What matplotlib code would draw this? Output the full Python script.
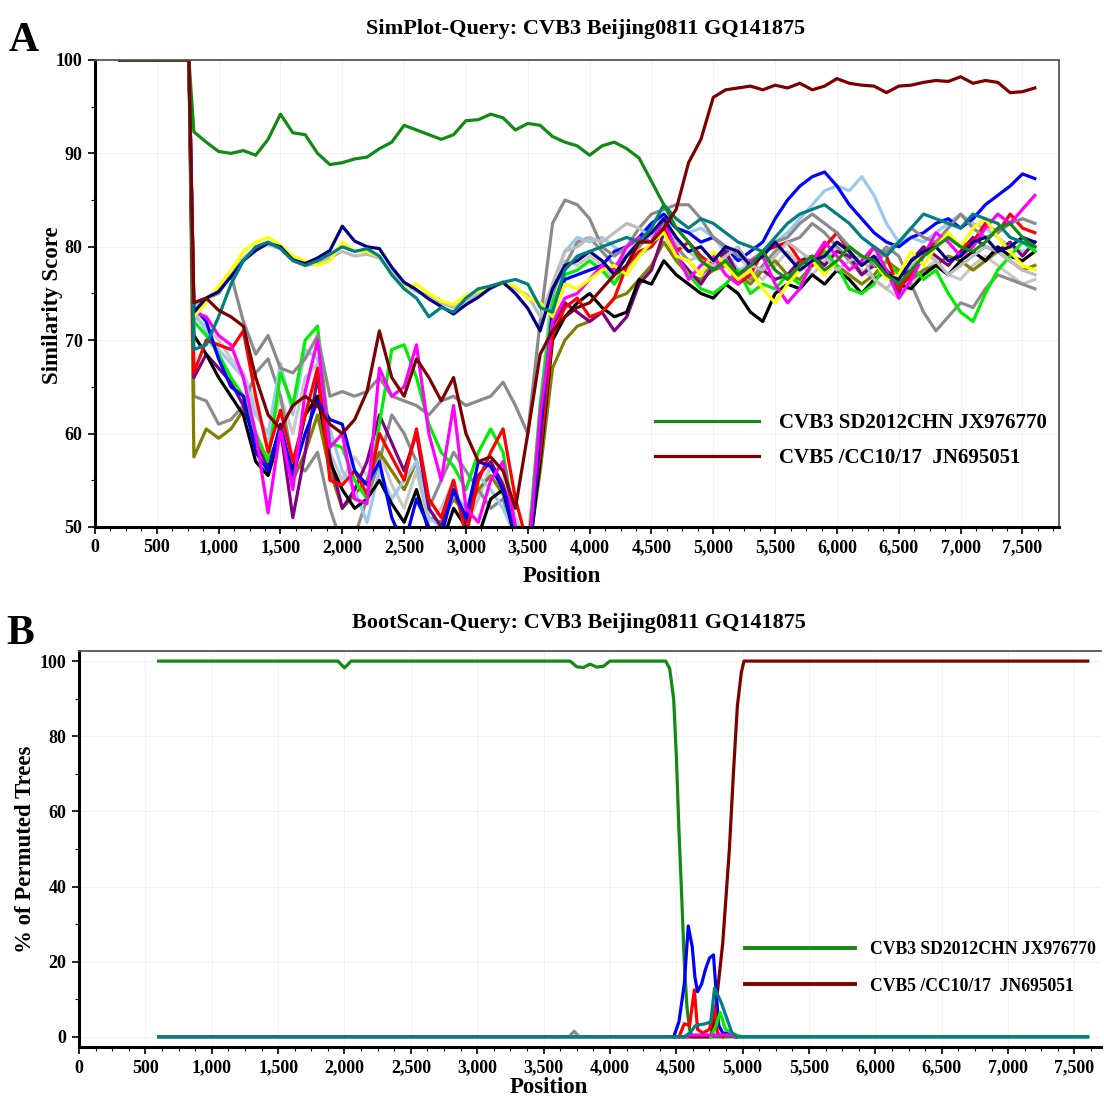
import matplotlib
matplotlib.use('Agg')
import matplotlib.pyplot as plt
from matplotlib.ticker import MultipleLocator, FuncFormatter

plt.rcParams['font.family'] = ['Liberation Serif', 'DejaVu Serif']
plt.rcParams['font.weight'] = 'bold'

# ---------------- Panel A: SimPlot (similarity score) ----------------
# positions: the flat 100 start, then one value every 100 nt from 800 to 7600
a_pos = [200, 760] + list(range(800, 7700, 100))
a_lead = [100, 100]

sim_cvb3 = [92.3, 91.2, 90.2, 90.0, 90.3, 89.8, 91.5, 94.2, 92.2, 92.0,
            90.0, 88.8, 89.0, 89.4, 89.6, 90.5, 91.2, 93.0, 92.5, 92.0,
            91.5, 92.0, 93.5, 93.6, 94.2, 93.8, 92.5, 93.2, 93.0, 91.8,
            91.2, 90.8, 89.8, 90.8, 91.2, 90.5, 89.5, 87.0, 84.5, 82.0,
            80.5, 78.5, 77.5, 78.5, 77.0, 78.0, 79.5, 77.5, 76.5, 78.0,
            79.0, 77.5, 78.5, 80.0, 79.0, 78.5, 77.0, 76.0, 77.5, 79.0,
            80.0, 81.0, 80.0, 79.5, 80.5, 82.0, 82.5, 81.0, 80.0]
sim_cvb5 = [74.0, 74.5, 73.2, 72.5, 71.5, 66.0, 62.0, 60.5, 63.0, 64.0,
            63.0, 61.0, 60.0, 61.5, 64.5, 71.0, 66.0, 64.0, 68.0, 66.0,
            63.5, 66.0, 60.0, 57.0, 57.5, 56.0, 52.0, 60.0, 68.5, 71.0,
            72.5, 73.5, 74.0, 75.5, 77.0, 78.0, 80.5, 80.5, 82.0, 84.0,
            89.0, 91.5, 96.0, 96.8, 97.0, 97.2, 96.8, 97.3, 97.0, 97.5,
            96.8, 97.2, 98.0, 97.5, 97.3, 97.2, 96.5, 97.2, 97.3, 97.6,
            97.8, 97.7, 98.2, 97.5, 97.8, 97.6, 96.5, 96.6, 97.0]

sim_navy = [73.0, 74.5, 75.2, 76.8, 78.5, 79.6, 80.4, 80.0, 78.6, 78.2,
            78.8, 79.6, 82.2, 80.6, 80.0, 79.8, 77.8, 76.2, 75.4, 74.4,
            73.6, 72.8, 73.8, 74.6, 75.6, 76.2, 75.0, 73.4, 71.0, 75.5,
            78.0, 78.5, 79.5, 78.5, 77.0, 79.0, 80.5, 81.5, 83.0, 81.0,
            79.5, 80.0, 78.5, 80.0, 79.5, 78.0, 79.0, 80.5, 79.0, 77.5,
            78.5, 79.0, 80.5, 79.5, 78.0, 79.0, 77.0, 76.5, 78.5, 79.5,
            80.0, 78.5, 79.0, 80.5, 81.0, 79.5, 80.0, 81.0, 80.5]
sim_yellow = [72.5, 74.0, 75.8, 77.5, 79.5, 80.5, 81.0, 80.2, 79.0, 78.5,
              78.0, 78.5, 80.5, 79.5, 79.5, 79.0, 77.0, 75.5, 76.0, 75.0,
              74.2, 73.8, 74.8, 75.2, 75.8, 76.0, 75.8, 74.5, 74.0, 72.5,
              76.0, 75.5, 76.5, 77.5, 78.0, 77.0, 79.0, 80.5, 81.5, 79.0,
              78.5, 77.0, 79.5, 78.0, 76.5, 77.5, 75.5, 74.0, 76.0, 77.5,
              78.5, 77.0, 78.5, 80.0, 79.0, 78.5, 76.5, 77.0, 79.5, 78.0,
              80.0, 81.5, 80.0, 82.0, 83.0, 81.0, 79.5, 78.0, 77.5]
sim_teal = [69.0, 69.5, 72.5, 76.0, 78.5, 80.0, 80.5, 79.8, 78.5, 78.0,
            78.5, 79.2, 80.0, 79.5, 79.8, 79.0, 77.0, 75.5, 74.5, 72.5,
            73.5, 73.0, 74.5, 75.5, 75.8, 76.2, 76.5, 76.0, 73.5, 73.0,
            77.5, 79.0, 79.5, 80.0, 80.5, 81.0, 80.5, 82.0, 84.5, 83.0,
            82.0, 83.0, 82.5, 81.5, 80.5, 80.0, 79.5, 81.0, 82.5, 83.5,
            84.0, 84.5, 83.5, 82.5, 81.0, 80.0, 79.0, 80.5, 82.0, 83.5,
            83.0, 82.5, 82.0, 83.5, 83.0, 82.5, 81.0, 80.5, 80.0]
sim_silver = [73.5, 74.5, 75.5, 77.0, 78.8, 79.8, 80.2, 79.8, 78.8, 78.0,
              78.2, 78.8, 79.5, 79.0, 79.2, 78.8, 77.2, 76.0, 75.2, 74.8,
              74.0, 73.5, 74.2, 75.0, 75.5, 76.2, 75.5, 74.8, 72.5, 76.0,
              79.5, 80.0, 81.0, 80.5, 81.5, 82.5, 82.0, 81.0, 83.0, 80.5,
              79.5, 78.5, 78.0, 79.0, 80.0, 78.0, 77.5, 79.0, 80.5, 79.5,
              78.5, 79.0, 77.5, 78.5, 79.0, 76.5, 75.5, 77.0, 78.0, 79.5,
              78.5, 77.0, 78.0, 79.0, 80.0, 79.5, 78.5, 77.5, 77.0]
sim_magenta = [73.0, 72.5, 70.5, 69.5, 66.0, 60.0, 51.5, 60.5, 54.0, 64.5,
               70.0, 58.5, 60.0, 53.0, 52.5, 67.0, 64.0, 65.0, 69.5, 60.0,
               55.0, 63.0, 52.0, 50.5, 55.0, 57.0, 50.0, 46.0, 62.0, 72.0,
               74.5, 75.0, 76.5, 78.0, 77.5, 80.0, 81.0, 80.5, 83.0, 79.5,
               76.5, 78.0, 79.0, 77.0, 76.0, 78.5, 79.0, 76.0, 74.0, 75.5,
               78.5, 80.5, 79.0, 77.5, 78.5, 80.0, 77.5, 74.5, 76.5, 79.0,
               81.5, 80.5, 79.0, 80.0, 82.0, 83.5, 82.5, 84.0, 85.5]
sim_red = [66.5, 70.0, 69.5, 69.0, 71.0, 64.0, 58.0, 62.5, 57.0, 62.0,
           67.0, 55.0, 54.5, 56.0, 53.5, 60.0, 57.5, 55.0, 60.5, 53.0,
           51.0, 55.0, 49.0, 55.0, 58.0, 60.5, 53.0, 48.0, 58.0, 70.5,
           73.5, 74.5, 72.5, 73.0, 74.5, 78.0, 79.5, 80.0, 82.0, 79.5,
           80.5, 79.0, 78.0, 78.5, 76.0, 77.0, 79.5, 80.0, 80.5, 78.5,
           78.0, 80.0, 81.5, 79.5, 78.0, 80.0, 79.0, 75.5, 77.0, 79.5,
           80.5, 81.0, 80.0, 80.5, 82.5, 81.5, 83.5, 82.0, 81.5]
sim_blue = [73.5, 72.0, 68.0, 65.0, 64.0, 58.0, 56.0, 61.0, 55.5, 60.0,
            63.5, 61.5, 61.0, 56.0, 54.5, 57.0, 51.0, 48.0, 53.0, 50.0,
            49.0, 54.0, 51.0, 57.0, 56.5, 54.0, 49.0, 45.0, 60.0, 73.0,
            76.5, 77.0, 77.5, 78.0, 79.5, 80.0, 81.0, 82.5, 83.5, 82.0,
            81.5, 80.5, 81.0, 80.0, 78.5, 79.5, 80.5, 83.0, 85.0, 86.5,
            87.5, 88.0, 86.5, 84.5, 83.0, 81.5, 80.5, 80.0, 81.0, 81.5,
            82.5, 83.0, 82.0, 83.0, 84.5, 85.5, 86.5, 87.8, 87.3]
sim_lime = [72.0, 70.5, 68.5, 66.0, 64.0, 60.0, 57.0, 66.5, 63.0, 70.0,
            71.5, 59.0, 58.5, 55.0, 53.0, 61.0, 69.0, 69.5, 66.0, 61.0,
            58.0, 56.5, 54.0, 58.0, 60.5, 58.0, 50.0, 47.0, 63.0, 74.0,
            77.0, 77.5, 78.5, 77.5, 76.0, 78.0, 80.5, 81.5, 82.5, 79.0,
            77.0, 75.5, 75.0, 76.0, 77.5, 75.0, 76.0, 75.5, 77.0, 76.0,
            78.0, 79.5, 78.0, 75.5, 75.0, 76.0, 78.5, 77.0, 78.0, 76.5,
            77.5, 75.0, 73.0, 72.0, 75.0, 77.5, 79.0, 80.5, 79.5]
sim_black = [70.5, 68.5, 66.0, 64.0, 62.0, 57.0, 55.5, 60.0, 56.0, 62.0,
             64.0, 57.0, 54.0, 52.0, 53.0, 55.0, 52.5, 50.5, 54.0, 49.5,
             48.0, 52.0, 50.0, 49.0, 53.0, 54.0, 48.5, 46.0, 57.0, 70.0,
             72.5, 74.0, 75.0, 73.5, 72.5, 73.0, 76.5, 76.0, 78.5, 77.0,
             76.0, 75.0, 74.5, 76.0, 75.0, 73.0, 72.0, 75.0, 76.0, 75.5,
             77.0, 76.0, 77.5, 76.5, 75.0, 76.5, 77.5, 76.0, 75.5, 77.0,
             78.0, 77.0, 78.5, 79.5, 78.5, 80.0, 79.0, 78.5, 79.5]
sim_purple = [66.0, 68.5, 67.0, 65.5, 63.0, 59.0, 56.5, 60.5, 51.0, 58.0,
              66.0, 57.5, 52.0, 54.0, 57.0, 62.0, 59.0, 56.0, 60.0, 52.0,
              50.0, 54.0, 50.5, 55.5, 57.0, 54.5, 50.0, 47.0, 58.0, 71.5,
              74.0, 73.0, 72.0, 73.0, 71.0, 72.5, 76.0, 77.5, 81.5, 79.0,
              77.5, 76.0, 78.0, 79.5, 77.0, 78.0, 77.5, 76.5, 77.0, 78.5,
              79.0, 78.0, 79.5, 79.0, 77.0, 78.0, 77.5, 75.0, 78.5, 80.0,
              79.0, 78.0, 79.5, 81.0, 80.0, 79.5, 80.5, 79.0, 80.5]
sim_gray = [74.0, 74.5, 75.0, 77.0, 72.0, 68.5, 70.5, 67.0, 66.5, 68.0,
            70.5, 64.0, 64.5, 64.0, 64.5, 66.0, 64.0, 63.5, 63.0, 62.0,
            63.5, 64.0, 63.0, 63.5, 64.0, 65.5, 63.0, 60.0, 72.0, 82.5,
            85.0, 84.5, 83.0, 80.0, 79.0, 80.0, 82.0, 83.5, 84.0, 84.5,
            84.5, 83.0, 81.0, 80.0, 79.0, 78.5, 79.5, 80.5, 81.0, 82.5,
            83.5, 82.5, 81.5, 80.0, 79.0, 78.0, 79.5, 80.5, 82.0, 81.0,
            80.5, 82.0, 83.5, 82.0, 81.0, 81.5, 82.5, 83.0, 82.5]
sim_gray2 = [64.0, 63.5, 61.0, 61.5, 63.0, 66.5, 68.0, 64.0, 57.0, 56.0,
             58.0, 52.0, 48.0, 49.0, 53.0, 57.0, 62.0, 60.0, 57.0, 52.0,
             55.0, 58.0, 56.0, 54.0, 52.0, 53.0, 49.0, 46.0, 60.0, 75.0,
             78.0, 80.5, 81.0, 79.5, 78.0, 79.0, 80.0, 81.5, 82.0, 80.0,
             78.5, 77.0, 78.0, 79.0, 77.5, 76.5, 78.0, 79.5, 80.5, 81.0,
             82.5, 81.5, 80.0, 78.5, 77.0, 78.5, 80.0, 79.0, 76.0, 73.0,
             71.0, 72.5, 74.0, 73.5, 75.5, 77.0, 76.5, 76.0, 75.5]
sim_lightblue = [73.0, 71.0, 69.0, 67.5, 66.0, 62.0, 60.0, 67.5, 62.0, 69.0,
                 68.0, 60.5, 56.0, 54.0, 50.5, 56.0, 53.0, 55.0, 57.0, 51.0,
                 50.0, 53.5, 52.0, 55.5, 54.0, 52.0, 49.0, 47.0, 63.0, 76.0,
                 79.5, 81.0, 80.5, 81.0, 80.0, 79.0, 81.0, 82.5, 83.0, 82.0,
                 81.5, 82.0, 81.0, 79.5, 77.5, 78.0, 79.5, 80.5, 81.5, 83.0,
                 84.5, 86.0, 86.5, 86.0, 87.5, 85.5, 82.5, 80.5, 81.0, 80.5,
                 81.5, 82.5, 83.5, 82.5, 82.0, 81.0, 80.0, 79.5, 80.0]
sim_olive = [57.5, 60.5, 59.5, 60.5, 62.5, 60.0, 57.0, 60.0, 55.0, 58.0,
             62.0, 56.0, 52.0, 53.5, 55.0, 58.0, 56.0, 54.0, 57.0, 51.0,
             50.5, 53.0, 51.5, 54.0, 55.5, 53.5, 49.5, 46.5, 56.0, 67.0,
             70.0, 71.5, 72.0, 73.0, 74.5, 75.0, 76.5, 78.0, 80.5, 78.5,
             77.0, 76.5, 77.5, 78.0, 77.0, 76.0, 77.5, 78.5, 77.0, 76.5,
             78.0, 79.0, 78.0, 77.0, 76.0, 77.0, 78.5, 77.5, 76.5, 77.5,
             78.0, 79.0, 78.5, 77.5, 78.5, 79.5, 78.5, 77.5, 78.0]
sim_lightgray = [72.5, 71.5, 70.0, 68.0, 66.5, 63.0, 59.0, 64.0, 60.0, 66.0,
                 67.5, 58.0, 55.0, 57.5, 55.5, 58.0, 54.5, 52.0, 56.0, 50.5,
                 52.0, 55.0, 50.0, 53.0, 56.5, 55.0, 51.0, 48.0, 62.0, 75.0,
                 78.5, 78.0, 79.0, 78.0, 76.5, 77.5, 79.0, 80.0, 81.5, 80.0,
                 78.5, 79.0, 77.5, 78.0, 79.0, 77.5, 76.5, 78.0, 79.5, 78.0,
                 77.0, 78.5, 80.0, 79.0, 77.5, 76.5, 75.5, 74.5, 76.0, 77.5,
                 78.5, 77.0, 76.5, 78.0, 79.0, 78.0, 77.0, 76.0, 76.5]

# background reference sequences (no legend entry)
a_background = [
    (sim_lightgray, '#c8c8c8'), (sim_gray2, '#8c8c8c'), (sim_olive, '#808000'),
    (sim_lightblue, '#9cc8ec'), (sim_purple, '#800080'), (sim_black, '#000000'),
    (sim_lime, '#00ee00'), (sim_red, '#ff0000'), (sim_blue, '#0000ff'),
    (sim_gray, '#8a8a8a'), (sim_silver, '#bdbdbd'), (sim_magenta, '#ff00ff'),
    (sim_yellow, '#ffff00'), (sim_navy, '#000080'), (sim_teal, '#008080'),
]

# ---------------- Panel B: BootScan ----------------
b_cvb3_pos = [600, 1950, 2000, 2050, 3700, 3750, 3800, 3850, 3900, 3950, 4000,
              4420, 4450, 4480, 4500, 4520, 4540, 4560, 4580, 4600, 4620, 7600]
b_cvb3_val = [100, 100, 98.2, 100, 100, 98.5, 98.3, 99.2, 98.4, 98.6, 100,
              100, 98, 90, 75, 55, 38, 20, 8, 2, 0, 0]
b_cvb5_pos = [600, 4760, 4790, 4810, 4850, 4880, 4900, 4930, 4960, 4990, 5010, 7600]
b_cvb5_val = [0, 0, 5, 12, 25, 40, 50, 70, 88, 97, 100, 100]
b_blue_pos = [4480, 4520, 4560, 4590, 4620, 4640, 4660, 4690, 4720, 4750, 4780, 4800,
              4820, 4850, 4900, 4950]
b_blue_val = [0, 4, 14, 29.5, 24, 16, 12, 14, 18, 21, 21.8, 12, 3, 1, 1, 0]
b_red_pos = [4520, 4560, 4600, 4636, 4660, 4700, 4750, 4788, 4810, 4850]
b_red_val = [0, 3.5, 3, 12.5, 2, 1, 2, 8, 1, 0]
b_lime_pos = [4760, 4800, 4830, 4870, 4950, 5000]
b_lime_val = [0, 3, 6.5, 2, 0.5, 0]
b_magenta_pos = [4580, 4600, 4920, 4940]
b_magenta_val = [0, 0.5, 0.5, 0]
b_gray_pos = [3690, 3730, 3770]
b_gray_val = [0, 1.5, 0]
b_teal_pos = [600, 4560, 4600, 4645, 4720, 4760, 4788, 4840, 4920, 4960, 7600]
b_teal_val = [0, 0, 1, 3, 3.5, 4, 13, 9, 1, 0, 0]

GREEN = '#138a13'
MAROON = '#7d0000'

fig = plt.figure(figsize=(11.04, 11.02), dpi=100)
axA = fig.add_axes([0.0860, 0.5218, 0.8732, 0.4238])
axB = fig.add_axes([0.0716, 0.0499, 0.9257, 0.3594])

thous = FuncFormatter(lambda v, p: f'{int(v):,}')
tick_font = {'family': 'Liberation Serif', 'weight': 'bold', 'size': 13}


def style_axes(ax, ymajor, yminor):
    ax.xaxis.set_major_locator(MultipleLocator(500))
    ax.xaxis.set_minor_locator(MultipleLocator(125))
    ax.yaxis.set_major_locator(MultipleLocator(ymajor))
    ax.yaxis.set_minor_locator(MultipleLocator(yminor))
    ax.xaxis.set_major_formatter(thous)
    ax.tick_params(which='major', length=5, width=1.2, direction='out', pad=4)
    ax.tick_params(which='minor', length=3, width=0.8, direction='out')
    for lab in ax.get_xticklabels() + ax.get_yticklabels():
        lab.set_fontproperties(tick_font)
    ax.grid(True, which='major', color='#f2f2f2', lw=0.7)
    ax.set_axisbelow(True)
    ax.spines['left'].set_linewidth(2.2)
    ax.spines['bottom'].set_linewidth(2.2)
    ax.spines['top'].set_linewidth(1.3)
    ax.spines['right'].set_linewidth(1.3)
    ax.spines['top'].set_color('#555555')
    ax.spines['right'].set_color('#555555')


# Panel A
for vals, col in a_background:
    axA.plot(a_pos, a_lead + vals, color=col, lw=2.3)
lA1, = axA.plot(a_pos, a_lead + sim_cvb3, color=GREEN, lw=2.3,
                label='CVB3 SD2012CHN JX976770')
lA2, = axA.plot(a_pos, a_lead + sim_cvb5, color=MAROON, lw=2.3,
                label='CVB5 /CC10/17  JN695051')
axA.set_xlim(0, 7795)
axA.set_ylim(50, 100)
style_axes(axA, 10, 5)
axA.set_xlabel('Position', fontsize=16.5, fontweight='bold', labelpad=7, x=0.484)
axA.set_ylabel('Similarity Score', fontsize=16.5, fontweight='bold', labelpad=-5, y=0.475)
axA.legend(handles=[lA1, lA2], loc='upper left', bbox_to_anchor=(0.581, 0.243),
           frameon=False, handlelength=5.0, handletextpad=0.95, labelspacing=0.7,
           borderaxespad=0, borderpad=0,
           prop={'family': 'Liberation Serif', 'weight': 'bold', 'size': 15})

# Panel B
axB.plot(b_cvb3_pos, b_cvb3_val, color=GREEN, lw=2.3)
axB.plot(b_cvb5_pos, b_cvb5_val, color=MAROON, lw=2.3)
axB.plot(b_blue_pos, b_blue_val, color='#0000ff', lw=2.3)
axB.plot(b_red_pos, b_red_val, color='#ff0000', lw=2.3)
axB.plot(b_lime_pos, b_lime_val, color='#00ee00', lw=2.3)
axB.plot(b_magenta_pos, b_magenta_val, color='#ff00ff', lw=2.3)
axB.plot(b_gray_pos, b_gray_val, color='#8a8a8a', lw=2.3)
axB.plot(b_teal_pos, b_teal_val, color='#008080', lw=2.3)
lB1, = axB.plot([], [], color=GREEN, lw=2.8, label='CVB3 SD2012CHN JX976770')
lB2, = axB.plot([], [], color=MAROON, lw=2.8, label='CVB5 /CC10/17  JN695051')
axB.set_xlim(0, 7700)
axB.set_ylim(-2.7, 102.7)
style_axes(axB, 20, 10)
axB.spines['right'].set_visible(False)
axB.set_xlabel('Position', fontsize=16.5, fontweight='bold', labelpad=0, x=0.46)
axB.set_ylabel('% of Permuted Trees', fontsize=16.5, fontweight='bold', labelpad=3)
axB.legend(handles=[lB1, lB2], loc='upper left', bbox_to_anchor=(0.652, 0.267),
           frameon=False, handlelength=6.2, handletextpad=0.85, labelspacing=1.1,
           borderaxespad=0, borderpad=0,
           prop={'family': 'Liberation Serif', 'weight': 'bold', 'size': 12.7})

# titles and panel letters
fig.text(0.530, 0.974, 'SimPlot-Query: CVB3 Beijing0811 GQ141875',
         ha='center', va='center', fontsize=16, fontweight='bold')
fig.text(0.524, 0.435, 'BootScan-Query: CVB3 Beijing0811 GQ141875',
         ha='center', va='center', fontsize=16, fontweight='bold')
fig.text(0.008, 0.963, 'A', ha='left', va='center', fontsize=30, fontweight='bold')
fig.text(0.006, 0.425, 'B', ha='left', va='center', fontsize=30, fontweight='bold')

fig.savefig('out.png', dpi=100, facecolor='white')
